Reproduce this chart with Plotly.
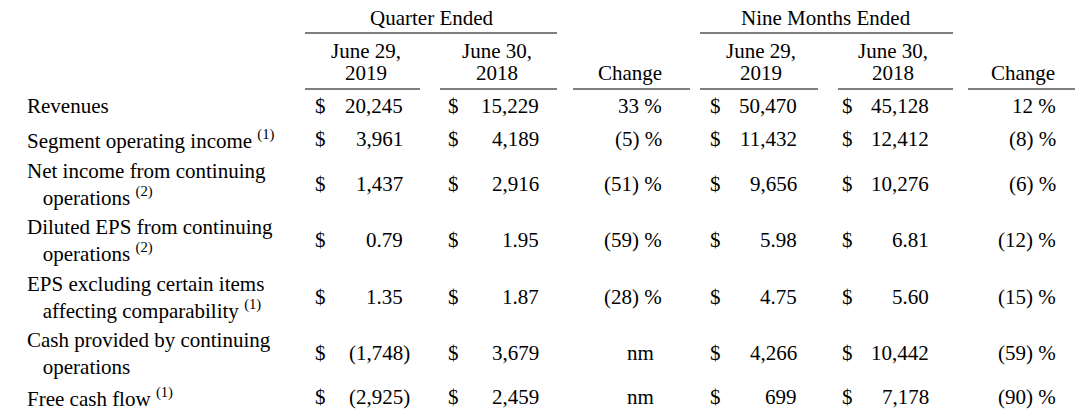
import plotly.graph_objects as go

# table content
row_labels = [
    "Revenues",
    "Segment operating income <sup>(1)</sup>",
    "Net income from continuing<br>   operations <sup>(2)</sup>",
    "Diluted EPS from continuing<br>   operations <sup>(2)</sup>",
    "EPS excluding certain items<br>   affecting comparability <sup>(1)</sup>",
    "Cash provided by continuing<br>   operations",
    "Free cash flow <sup>(1)</sup>",
]
q_2019 = ["20,245", "3,961", "1,437", "0.79", "1.35", "(1,748)", "(2,925)"]
q_2018 = ["15,229", "4,189", "2,916", "1.95", "1.87", "3,679", "2,459"]
q_change = ["33 %", "(5) %", "(51) %", "(59) %", "(28) %", "nm", "nm"]
n_2019 = ["50,470", "11,432", "9,656", "5.98", "4.75", "4,266", "699"]
n_2018 = ["45,128", "12,412", "10,276", "6.81", "5.60", "10,442", "7,178"]
n_change = ["12 %", "(8) %", "(6) %", "(12) %", "(15) %", "(59) %", "(90) %"]

row_y = [106, 139, 184, 240, 297, 353, 397]
FONT = dict(family="Liberation Serif, Times New Roman, serif", size=21, color="black")

fig = go.Figure()
ann = []


def txt(x, y, s, anchor="left"):
    ann.append(dict(x=x, y=y, text=s, showarrow=False, xanchor=anchor,
                    yanchor="middle", font=FONT, align="left"))


def line(x0, x1, y):
    fig.add_shape(type="line", x0=x0, x1=x1, y0=y, y1=y,
                  line=dict(color="black", width=1.2))


# headers
txt(432, 18, "Quarter Ended", "center")
txt(826, 18, "Nine Months Ended", "center")
line(305, 557, 33)
line(700, 953, 33)
for cx, x0, x1 in [(366, 305, 420), (497, 440, 557), (761, 700, 818), (893, 838, 953)]:
    txt(cx, 51, "June 29," if cx in (366, 761) else "June 30,", "center")
    txt(cx, 73, "2019" if cx in (366, 761) else "2018", "center")
    line(x0, x1, 89)
for cx, x0, x1 in [(630, 573, 690), (1023, 968, 1078)]:
    txt(cx, 73, "Change", "center")
    line(x0, x1, 89)

# money columns: (dollar x, right edge of values)
money_cols = [(q_2019, 313, 405), (q_2018, 446, 541), (n_2019, 708, 799), (n_2018, 840, 931)]
for i, y in enumerate(row_y):
    txt(25, y, row_labels[i])
    for vals, dx, rx in money_cols:
        v = vals[i]
        txt(dx, y, "$")
        txt(rx + (7 if v.startswith("(") else 0), y, v, "right")
    for vals, rx, cx in [(q_change, 664, 640), (n_change, 1058, 1033)]:
        v = vals[i]
        if v == "nm":
            txt(cx, y, v, "center")
        else:
            txt(rx, y, v, "right")

# page body has an 8px margin, so shift the axis window to compensate
fig.update_layout(
    width=1083, height=418, margin=dict(l=0, r=0, t=0, b=0),
    plot_bgcolor="white", paper_bgcolor="white", annotations=ann,
    xaxis=dict(range=[8, 1091], visible=False, fixedrange=True),
    yaxis=dict(range=[426, 8], visible=False, fixedrange=True),
    showlegend=False,
)
fig.write_html("out.html")
